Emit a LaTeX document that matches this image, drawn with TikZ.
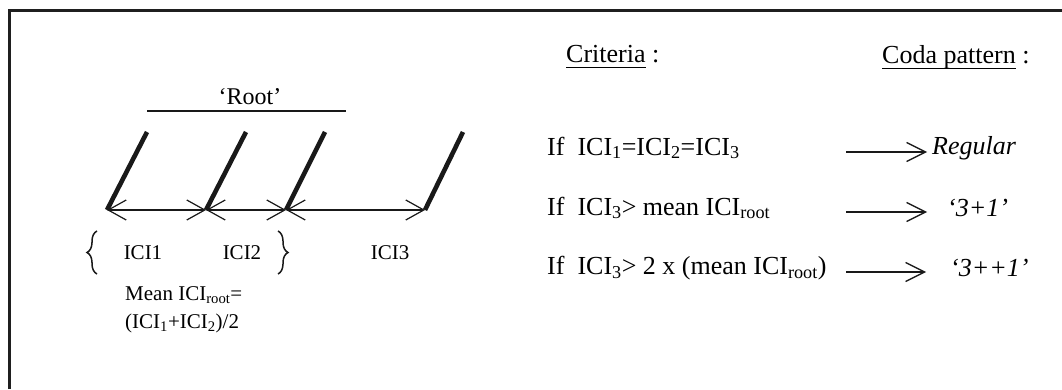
\documentclass[tikz,border=0pt]{standalone}
\usepackage{fontspec}
\setmainfont{Liberation Serif}
\usetikzlibrary{arrows.meta,decorations.pathreplacing}
\tikzset{
  stroke/.style={line width=4.6pt, black!90},
  ici/.style={line width=1.2pt, black!90, {Straight Barb[length=18pt,width=20pt,line width=1.2pt]}-{Straight Barb[length=18pt,width=20pt,line width=1.2pt]}},
  rule/.style={line width=1.3pt, black!90, -{Straight Barb[length=19pt,width=19pt,line width=1.3pt]}},
  lbl/.style={inner sep=0pt, font=\fontsize{21}{24}\selectfont},
  rlbl/.style={inner sep=0pt, anchor=west, font=\fontsize{26}{30}\selectfont},
  bracestyle/.style={line width=1.5pt, black!90, decorate, decoration={brace, amplitude=10pt}},
}
\newcommand{\ulbl}[1]{\setbox0\hbox{#1}\rlap{\rule[-5.5pt]{\wd0}{1.2pt}}\box0\relax}
\begin{document}
\begin{tikzpicture}[x=1pt,y=1pt]
\useasboundingbox (0,0) rectangle (1062,389);
% frame (top and left edges)
\draw[line width=3.5pt, black!88] (9.25,0) -- (9.25,378.4) -- (1062,378.4);

% clicks
\coordinate (t1) at (147,257); \coordinate (b1) at (107,179);
\coordinate (t2) at (246,257); \coordinate (b2) at (206,179);
\coordinate (t3) at (325,257); \coordinate (b3) at (286,179);
\coordinate (t4) at (463,257); \coordinate (b4) at (425,179);
\draw[stroke] (t1) -- (b1);
\draw[stroke] (t2) -- (b2);
\draw[stroke] (t3) -- (b3);
\draw[stroke] (t4) -- (b4);

% intervals
\draw[ici] (b1) -- (b2);
\draw[ici] (b2) -- (b3);
\draw[ici] (b3) -- (b4);

% root
\node[lbl, font=\fontsize{24}{28}\selectfont] (root) at (250,292) {‘Root’};
\coordinate (rl) at (147,278);
\coordinate (rr) at (346,278);
\draw[line width=1.3pt, black!90] (rl) -- (rr);

% braces and labels
\coordinate (lb1) at (97,115); \coordinate (lb2) at (97,158);
\coordinate (rb1) at (278,158); \coordinate (rb2) at (278,115);
\draw[bracestyle] (lb1) -- (lb2);
\draw[bracestyle] (rb1) -- (rb2);
\node[lbl] (ici1) at (143,136) {ICI1};
\node[lbl] (ici2) at (242,136) {ICI2};
\node[lbl] (ici3) at (390,136) {ICI3};
\node[lbl, anchor=west] (mean) at (125,94) {Mean ICI\textsubscript{root}=};
\node[lbl, anchor=west] (formula) at (125,66) {(ICI\textsubscript{1}+ICI\textsubscript{2})/2};

% criteria
\node[rlbl] (crit) at (566,332) {\ulbl{Criteria}\ :};
\node[rlbl] (coda) at (882,332) {\ulbl{Coda pattern}\ :};

\node[rlbl] (c1) at (547,241) {If~ ICI\textsubscript{1}=ICI\textsubscript{2}=ICI\textsubscript{3}};
\node[rlbl] (c2) at (547,181) {If~ ICI\textsubscript{3}> mean ICI\textsubscript{root}};
\node[rlbl] (c3) at (547,121) {If~ ICI\textsubscript{3}> 2 x (mean ICI\textsubscript{root})};

\node[rlbl] (p1) at (932,241) {\itshape Regular};
\node[rlbl] (p2) at (947,181) {\itshape ‘3+1’};
\node[rlbl] (p3) at (950,121) {\itshape ‘3++1’};

\coordinate (a1s) at (846,237); \coordinate (a1e) at (927,237);
\coordinate (a2s) at (846,177); \coordinate (a2e) at (927,177);
\coordinate (a3s) at (846,117); \coordinate (a3e) at (926,117);
\draw[rule] (a1s) -- (a1e);
\draw[rule] (a2s) -- (a2e);
\draw[rule] (a3s) -- (a3e);
\end{tikzpicture}
\end{document}
